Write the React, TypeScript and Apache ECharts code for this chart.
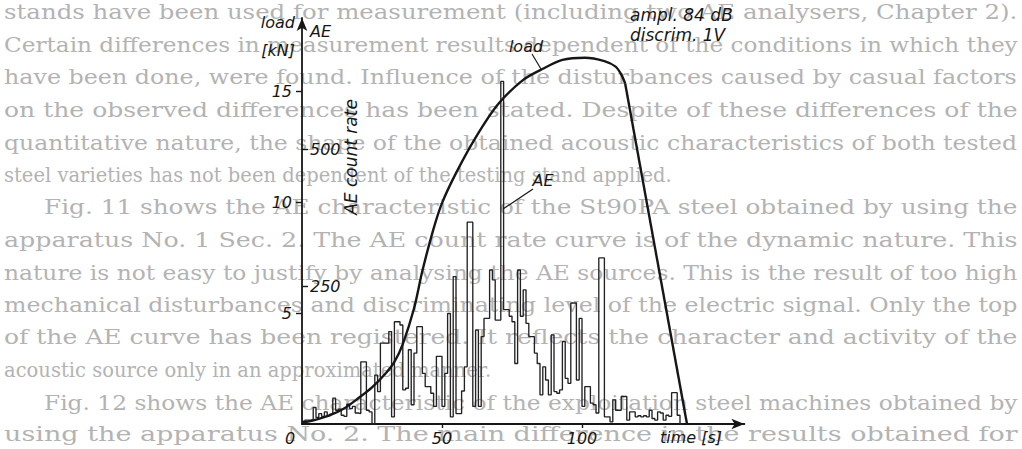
import React, { useEffect, useRef } from "react";
import * as echarts from "echarts";

// ---- data ----
const aeTime = [
  0, 1, 2, 3, 4, 5, 6, 7, 8, 9, 10, 11, 12, 13, 14, 15, 16, 17, 18, 19,
  20, 21, 22, 23, 24, 25, 26, 27, 28, 29, 30, 31, 32, 33, 34, 35, 36, 37, 38, 39,
  40, 41, 42, 43, 44, 45, 46, 47, 48, 49, 50, 51, 52, 53, 54, 55, 56, 57, 58, 59,
  60, 61, 62, 63, 64, 65, 66, 67, 68, 69, 70, 71, 72, 73, 74, 75, 76, 77, 78, 79,
  80, 81, 82, 83, 84, 85, 86, 87, 88, 89, 90, 91, 92, 93, 94, 95, 96, 97, 98, 99,
  100, 101, 102, 103, 104, 105, 106, 107, 108, 109, 110, 111, 112, 113, 114, 115, 116, 117, 118, 119,
  120, 121, 122, 123, 124, 125, 126, 127, 128, 129, 130, 131, 132, 133, 134, 135, 136,
];
const aeCountRate = [
  5, 7, 7, 8, 30, 12, 19, 14, 22, 15, 18, 47, 25, 27, 16, 14, 36, 28, 32, 20,
  19, 113, 113, 25, 22, 0, 89, 59, 147, 147, 147, 168, 13, 186, 186, 180, 62, 65, 135, 35,
  129, 177, 177, 92, 68, 68, 56, 32, 123, 123, 32, 92, 201, 13, 268, 19, 19, 60, 104, 367,
  367, 32, 171, 32, 159, 192, 192, 280, 262, 189, 189, 623, 208, 208, 196, 186, 110, 280, 196, 244,
  183, 159, 159, 129, 110, 53, 104, 80, 53, 162, 59, 56, 62, 150, 83, 74, 220, 220, 80, 192,
  32, 68, 68, 38, 35, 20, 302, 302, 13, 13, 4, 44, 25, 25, 50, 50, 7, 22, 22, 13,
  15, 13, 15, 13, 25, 10, 7, 22, 20, 7, 16, 14, 57, 57, 16, 0, 0,
];
const loadRiseTime = [0, 5, 10, 15, 20, 25, 30, 33, 36, 40, 43, 47, 50, 55, 62, 70, 79, 86, 93, 101, 108, 112, 114, 115.4];
const loadRiseKN = [0.05, 0.2, 0.4, 0.7, 1.15, 1.65, 2.3, 2.8, 3.6, 5.2, 6.9, 8.8, 9.95, 11.3, 12.9, 14.4, 15.5, 16.0, 16.4, 16.5, 16.35, 16.1, 15.75, 15.35];
const loadFallTime = [115.4, 137.5];
const loadFallKN = [15.35, 0];

const timeTicks = [0, 50, 100];
const loadTicks = [5, 10, 15];
const aeTicks = [250, 500];

const pageLines = [
  "stands have been used for measurement (including two AE analysers, Chapter 2).",
  "Certain differences in measurement results dependent of the conditions in which they",
  "have been done, were found. Influence of the disturbances caused by casual factors",
  "on the observed differences has been stated. Despite of these differences of the",
  "quantitative nature, the shape of the obtained acoustic characteristics of both tested",
  "steel varieties has not been dependent of the testing stand applied.",
  "Fig. 11 shows the AE characteristic of the St90PA steel obtained by using the",
  "apparatus No. 1 Sec. 2. The AE count rate curve is of the dynamic nature. This",
  "nature is not easy to justify by analysing the AE sources. This is the result of too high",
  "mechanical disturbances and discriminating level of the electric signal. Only the top",
  "of the AE curve has been registered. It reflects the character and activity of the",
  "acoustic source only in an approximated manner.",
  "Fig. 12 shows the AE characteristic of the exploitation steel machines obtained by",
  "using the apparatus No. 2. The main difference in the results obtained for",
];
const paragraphFirst = [6, 12];
const paragraphLast = [5, 11];

const INK = "#161616";
const LABEL_FONT = 'italic 16px "DejaVu Sans"';

function txt(text: string, x: number, y: number, align = "left", extra: any = {}) {
  return {
    type: "text",
    x,
    y,
    silent: true,
    z: 50,
    ...extra,
    style: {
      text,
      font: extra.font || LABEL_FONT,
      fill: INK,
      align,
      textAlign: align,
      verticalAlign: "middle",
      textVerticalAlign: "middle",
    },
  };
}

export default function App() {
  const ref = useRef<HTMLDivElement>(null);

  useEffect(() => {
    const el = ref.current!;
    const chart = echarts.init(el, null, { renderer: "svg" });

    const pageFont = '21px "DejaVu Serif"';
    const ctx = document.createElement("canvas").getContext("2d")!;
    ctx.font = pageFont;
    const pageEls = pageLines.map((s, i) => {
      const indent = paragraphFirst.includes(i) ? 40 : 0;
      const w = ctx.measureText(s).width || 1;
      const sc = paragraphLast.includes(i) ? 0.93 : (1014 - indent) / w;
      return {
        type: "text",
        x: 4 + indent,
        y: 12 + 32.5 * i,
        scaleX: sc,
        z: -10,
        silent: true,
        style: {
          text: s,
          font: pageFont,
          fill: "#b3b3b3",
          align: "left",
          textAlign: "left",
          verticalAlign: "middle",
          textVerticalAlign: "middle",
        },
      };
    });

    const option: any = {
      animation: false,
      backgroundColor: "#ffffff",
      grid: { left: 302, top: 18, width: 442.4, height: 406 },
      xAxis: {
        type: "value",
        min: 0,
        max: 158,
        interval: 50,
        splitLine: { show: false },
        axisLine: {
          show: true,
          symbol: ["none", "arrow"],
          symbolSize: [8, 13],
          lineStyle: { color: INK, width: 1.8 },
        },
        axisTick: { show: true, customValues: [50, 100], length: 4, lineStyle: { color: INK, width: 1.4 } },
        axisLabel: {
          customValues: timeTicks,
          color: INK,
          fontFamily: "DejaVu Sans",
          fontStyle: "italic",
          fontSize: 16,
          margin: 6,
          formatter: (v: number) => (v === 0 ? "{o|0}" : timeTicks.includes(v) ? String(v) : ""),
          rich: {
            o: { padding: [0, 24, 0, 0], fontFamily: "DejaVu Sans", fontStyle: "italic", fontSize: 16, color: INK },
          },
        },
      },
      yAxis: [
        {
          type: "value",
          min: 0,
          max: 406 / 22.2,
          interval: 5,
          position: "left",
          splitLine: { show: false },
          axisLine: {
            show: true,
            symbol: ["none", "arrow"],
            symbolSize: [8, 13],
            lineStyle: { color: INK, width: 1.8 },
          },
          axisTick: { show: true, customValues: loadTicks, length: 6, lineStyle: { color: INK, width: 1.4 } },
          axisLabel: {
            customValues: loadTicks,
            color: INK,
            fontFamily: "DejaVu Sans",
            fontStyle: "italic",
            fontSize: 16,
            margin: 10,
            formatter: (v: number) => (loadTicks.includes(v) ? String(v) : ""),
          },
        },
        {
          type: "value",
          min: 0,
          max: 406 / 0.55,
          interval: 250,
          position: "left",
          splitLine: { show: false },
          axisLine: { show: false },
          axisTick: { show: true, inside: true, customValues: aeTicks, length: 6, lineStyle: { color: INK, width: 1.4 } },
          axisLabel: {
            inside: true,
            customValues: aeTicks,
            color: INK,
            fontFamily: "DejaVu Sans",
            fontStyle: "italic",
            fontSize: 16,
            margin: 8,
            formatter: (v: number) => (aeTicks.includes(v) ? String(v) : ""),
          },
        },
      ],
      series: [
        {
          name: "AE",
          type: "line",
          yAxisIndex: 1,
          step: "end",
          symbol: "none",
          data: aeTime.map((t, i) => [t, aeCountRate[i]]),
          lineStyle: { color: "#222222", width: 1.35 },
          z: 3,
        },
        {
          name: "load",
          type: "line",
          yAxisIndex: 0,
          smooth: 0.3,
          symbol: "none",
          data: loadRiseTime.map((t, i) => [t, loadRiseKN[i]]),
          lineStyle: { color: INK, width: 2.4 },
          z: 4,
        },
        {
          name: "load fall",
          type: "line",
          yAxisIndex: 0,
          symbol: "none",
          data: loadFallTime.map((t, i) => [t, loadFallKN[i]]),
          lineStyle: { color: INK, width: 2.4 },
          z: 4,
        },
      ],
      graphic: [
        ...pageEls,
        txt("load", 295, 22, "right"),
        txt("[kN]", 295, 50, "right"),
        txt("AE", 310, 31, "left"),
        txt("AE count rate", 351, 157, "center", { rotation: Math.PI / 2, font: 'italic 17px "DejaVu Sans"' }),
        txt("time [s]", 691, 437, "center"),
        txt("ampl. 84 dB", 630, 15, "left", { font: 'italic 17px "DejaVu Sans"' }),
        txt("discrim. 1V", 630, 35, "left", { font: 'italic 17px "DejaVu Sans"' }),
        txt("load", 526, 46, "center"),
        txt("AE", 543, 180, "center"),
        {
          type: "line",
          silent: true,
          z: 50,
          shape: { x1: 532, y1: 54, x2: 541, y2: 69 },
          style: { stroke: INK, lineWidth: 1.2 },
        },
        {
          type: "line",
          silent: true,
          z: 50,
          shape: { x1: 533, y1: 189, x2: 503, y2: 209 },
          style: { stroke: INK, lineWidth: 1.2 },
        },
      ],
    };

    chart.setOption(option);
    return () => chart.dispose();
  }, []);

  return (
    <div
      ref={ref}
      style={{ position: "absolute", left: 0, top: 0, width: 1022, height: 449, background: "#fff" }}
    />
  );
}
